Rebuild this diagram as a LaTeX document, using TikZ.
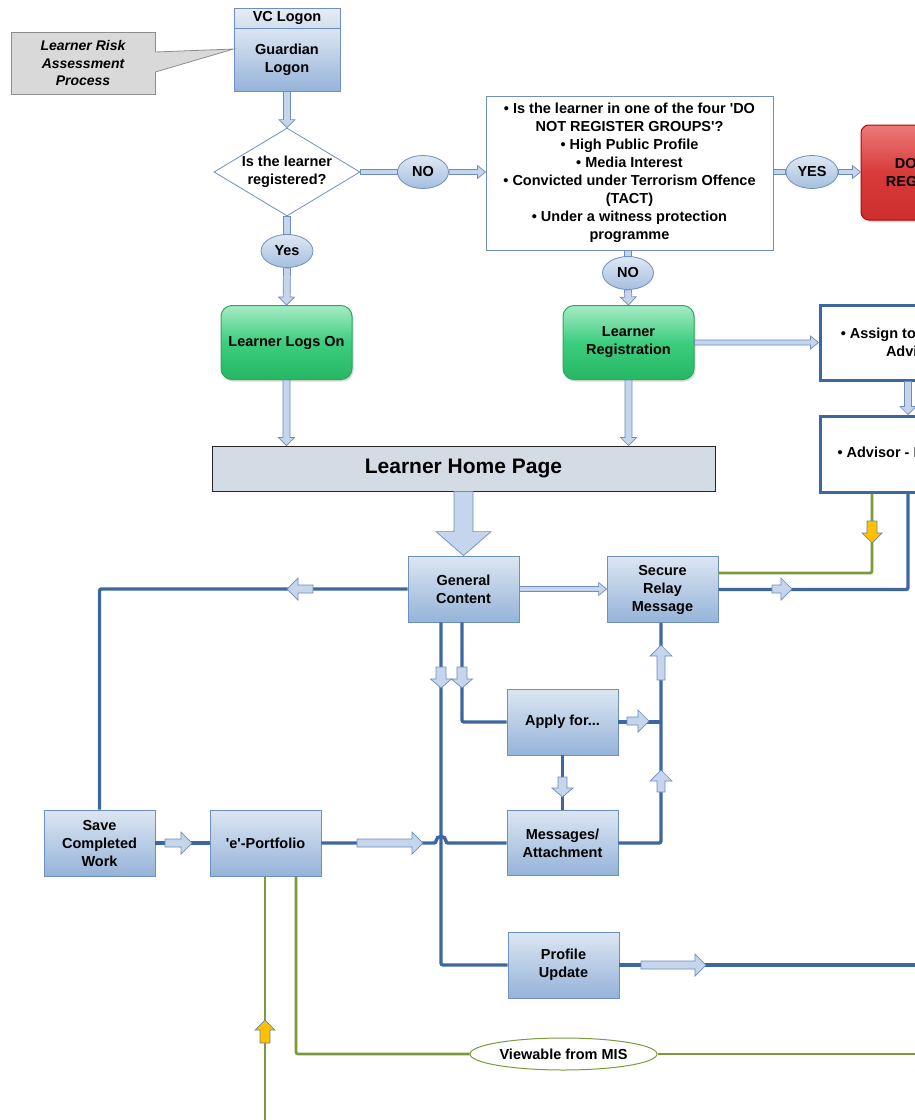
\documentclass[tikz,border=0pt]{standalone}
\usepackage{fontspec}
\setmainfont{Liberation Sans}
\usetikzlibrary{calc,shapes.geometric,shadows}

\definecolor{lineblue}{HTML}{3D679F}
\definecolor{boxedge}{HTML}{6D8FC2}
\definecolor{boxtop}{HTML}{DCE6F2}
\definecolor{boxbot}{HTML}{95B3D9}
\definecolor{arrowedge}{HTML}{6A8CBF}
\definecolor{arrowfill}{HTML}{C4D5EC}
\definecolor{olivegreen}{HTML}{7A9A3C}
\definecolor{amber}{HTML}{FFC000}
\definecolor{homefill}{HTML}{D3DBE5}
\definecolor{calloutfill}{HTML}{D9D9D9}
\definecolor{calloutedge}{HTML}{8C8C8C}
\definecolor{greentop}{HTML}{A6EBC5}
\definecolor{greenmid}{HTML}{3CCD7E}
\definecolor{greenbot}{HTML}{26B764}
\definecolor{greenedge}{HTML}{2CA85E}
\definecolor{redtop}{HTML}{EC7A7A}
\definecolor{redmid}{HTML}{D93A3A}
\definecolor{redbot}{HTML}{CC2E2E}
\definecolor{rededge}{HTML}{C00000}

\newcommand\boxfont{\bfseries\fontsize{14.5}{18}\selectfont}
\newcommand\homefont{\bfseries\fontsize{21}{24}\selectfont}
\newcommand\notefont{\bfseries\itshape\fontsize{14}{17.5}\selectfont}

\tikzset{
  flowbox/.style={rectangle, draw=boxedge, line width=0.8pt, top color=boxtop,
    bottom color=boxbot, minimum width=111pt, minimum height=66pt},
  greenbox/.style={rectangle, rounded corners=11pt, draw=greenedge, line width=1pt,
    top color=greentop, bottom color=greenbot, middle color=greenmid,
    minimum width=131pt, minimum height=74pt,
    drop shadow={shadow xshift=1.5pt, shadow yshift=-2pt, opacity=0.3}},
  stopbox/.style={rectangle, rounded corners=8pt, draw=rededge, line width=1pt,
    top color=redtop, bottom color=redbot, middle color=redmid,
    minimum width=124pt, minimum height=95pt,
    drop shadow={shadow xshift=1.5pt, shadow yshift=-2pt, opacity=0.3}},
  notebox/.style={rectangle, draw=lineblue, line width=3pt, fill=white,
    minimum width=186pt},
  pill/.style={ellipse, draw=boxedge, line width=0.8pt, top color=boxtop!90!white,
    bottom color=boxbot!85!white, minimum width=51pt, minimum height=33pt},
  link/.style={draw=lineblue, line width=3.4pt, rounded corners=2pt},
  glink/.style={draw=olivegreen, line width=2.8pt, rounded corners=2pt},
  barrowsize/.code args={#1/#2/#3}{\def\basw{#1}\def\bahw{#2}\def\bahl{#3}},
  blockarrow/.style={draw=arrowedge, fill=arrowfill, line width=0.7pt,
    line join=miter, barrowsize=#1,
    to path={let \p1=(\tikztostart), \p2=(\tikztotarget),
      \p3=($(\p2)!\bahl!(\p1)$) in
      ($(\p1)!\basw!90:(\p2)$) -- ($(\p3)!\basw!-90:(\p1)$)
      -- ($(\p3)!\bahw!-90:(\p1)$) -- (\p2) -- ($(\p3)!\bahw!90:(\p1)$)
      -- ($(\p3)!\basw!90:(\p1)$) -- ($(\p1)!\basw!-90:(\p2)$) -- cycle}},
  mainarrow/.style={blockarrow=3.5pt/8pt/8pt},
  thinarrow/.style={blockarrow=2.5pt/6.5pt/8pt},
  vshaft/.style={blockarrow=3.5pt/3.5pt/0pt},
  hshaft/.style={blockarrow=2.5pt/2.5pt/0pt},
  bigarrow/.style={blockarrow=9.5pt/27.5pt/24pt},
  linearrow/.style={blockarrow=4pt/11pt/11pt},
  warnarrow/.style={blockarrow=5pt/10pt/10pt, fill=amber, draw=lineblue!80},
}

\begin{document}
\begin{tikzpicture}[x=1pt, y=-1pt,
  every node/.style={inner sep=0pt, align=center, font=\boxfont, text=black}]
\useasboundingbox (0,0) rectangle (915,1120);
\clip (0,0) rectangle (915,1120);

% ---------- logon ----------
\node[flowbox, top color=boxtop!70!white, bottom color=boxtop!85!boxbot,
      minimum width=106pt, minimum height=20pt] (vc) at (287,18) {VC Logon};
\node[flowbox, minimum width=106pt, minimum height=63pt] (guardian) at (287,59.5)
  {Guardian\\Logon};

% risk assessment callout
\node[rectangle, draw=calloutedge, fill=calloutfill, line width=0.8pt,
      minimum width=144pt, minimum height=62pt, font=\notefont] (risk) at (83,63)
  {Learner Risk\\Assessment\\Process};
\coordinate (risktip) at ($(guardian.west)+(0,-10.5)$);
\fill[calloutfill] ($(risk.east)+(-1,-11)$) -- (risktip) -- ($(risk.east)+(-1,9)$) -- cycle;
\draw[calloutedge, line width=0.8pt] ($(risk.east)+(0,-11)$) -- (risktip)
  -- ($(risk.east)+(0,9)$);

% ---------- registration check ----------
\node[diamond, aspect=1.66, draw=boxedge, fill=white, line width=0.8pt,
      minimum width=146pt, minimum height=88pt] (check) at (287,172)
  {Is the learner\\registered?};
\node[pill] (no1) at (423,172) {NO};
\node[rectangle, draw=boxedge, fill=white, line width=1pt,
      minimum width=287pt, minimum height=154pt] (groups) at (629.5,173)
  {• Is the learner in one of the four \textquotesingle DO\\
   NOT REGISTER GROUPS\textquotesingle?\\
   • High Public Profile\\
   • Media Interest\\
   • Convicted under Terrorism Offence\\
   (TACT)\\
   • Under a witness protection\\
   programme};
\node[pill, minimum width=52pt] (yes1) at (812,172) {YES};
\node[stopbox] (stop) at (923,172.5) {DO NOT\\REGISTER};
\node[pill] (no2) at (628,273) {NO};
\node[pill, minimum width=52pt] (yes2) at (287,251) {Yes};

\node[greenbox] (logs) at (286.5,342.5) {Learner Logs On};
\node[greenbox] (register) at (628.5,342.5) {Learner\\Registration};

\node[notebox, minimum height=75pt] (assign) at (913,342.5)
  {• Assign to a Learner\\Advisor};
\node[notebox, minimum height=76pt] (advisor) at (913,454)
  {• Advisor - Monitoring};

\node[rectangle, draw=black!85, fill=homefill, line width=1pt,
      minimum width=503pt, minimum height=45pt, font=\homefont] (home) at (463.5,468.5)
  {Learner Home Page};

% ---------- learner area ----------
\node[flowbox] (gen) at (463.5,589) {General\\Content};
\node[flowbox] (relay) at (662.5,589.5) {Secure\\Relay\\Message};
\node[flowbox] (apply) at (562.5,722) {Apply for...};
\node[flowbox, minimum height=65pt] (msg) at (562.5,843) {Messages/\\Attachment};
\node[flowbox] (save) at (99.5,843) {Save\\Completed\\Work};
\node[flowbox] (port) at (265.5,843) {\textquotesingle e\textquotesingle-Portfolio};
\node[flowbox] (profile) at (563.5,965) {Profile\\Update};
\node[ellipse, draw=olivegreen, fill=white, line width=1pt,
      minimum width=187pt, minimum height=32pt] (view) at (563.5,1054)
  {Viewable from MIS};

% reference points for the routed lines
\coordinate (rightedge) at (917,0);
\coordinate (bottomedge) at (0,1122);
\coordinate (trunkL) at ($(gen.south)+(-22.5,0)$);
\coordinate (trunkR) at ($(gen.south)+(-1.5,0)$);
\coordinate (bus) at ($(relay.south)+(-1.5,0)$);
\coordinate (advB) at ($(advisor.south)+(-5,0)$);
\coordinate (advG) at ($(advisor.south)+(-41,0)$);
\coordinate (portG1) at ($(port.south)+(-0.5,0)$);
\coordinate (portG2) at ($(port.south)+(30.5,0)$);

% ---------- flow arrows (upper part) ----------
\draw[mainarrow] (guardian.south) to (check.north);
\draw[hshaft] (check.east) to (no1.west);
\draw[thinarrow] (no1.east) to (no1.east -| groups.west);
\draw[hshaft] (yes1.west -| groups.east) to (yes1.west);
\draw[thinarrow] (yes1.east) to (yes1.east -| stop.west);
\draw[vshaft] (no2.north |- groups.south) to (no2.north);
\draw[mainarrow] (no2.south) to (register.north);
\draw[vshaft] (check.south) to (yes2.north);
\draw[mainarrow] (yes2.south) to (logs.north);
\draw[mainarrow] (logs.south) to (logs.south |- home.north);
\draw[mainarrow] (register.south) to (register.south |- home.north);
\draw[thinarrow] (register.east) to (register.east -| assign.west);
\draw[mainarrow] ($(assign.south)+(-5,0)$) to ($(advisor.north)+(-5,0)$);
\draw[bigarrow] (home.south) to (gen.north);
\draw[thinarrow] (gen.east) to (gen.east -| relay.west);

% ---------- routed lines ----------
\draw[link] (gen.west) -| (save.north);
\draw[link] (trunkL) |- (profile.west);
\draw[link] (trunkR) |- (apply.west);
\draw[link] (apply.south) -- (msg.north);
\draw[link] (apply.east) -- (apply.east -| bus);
\draw[link] (msg.east) -| (bus);
\draw[link] (save.east) -- (port.west);
\draw[link] (port.east) -- ($(port.east -| trunkL)+(-5,0)$)
  .. controls +(0,-8) and +(0,-8) .. ($(port.east -| trunkL)+(5,0)$) -- (msg.west);
\draw[link] (relay.east) -| (advB);
\draw[link] (profile.east) -- (profile.east -| rightedge);
\draw[glink] (advG) |- ($(relay.east)+(0,-16.5)$);
\draw[glink] (portG1) -- (portG1 |- bottomedge);
\draw[glink] (portG2) |- (view.west);
\draw[glink] (view.east) -- (view.east -| rightedge);

% ---------- direction marks on the lines ----------
\draw[linearrow] (313,589) to (287,589);
\draw[blockarrow=5pt/10.5pt/9pt] (441,667) to (441,688);
\draw[blockarrow=5pt/10.5pt/9pt] (462,667) to (462,688);
\draw[blockarrow=4.5pt/10.5pt/9pt] (562.5,777) to (562.5,797);
\draw[linearrow] (627,721) to (649,721);
\draw[linearrow] (661,792) to (661,770);
\draw[linearrow] (661,680) to (661,645);
\draw[linearrow] (165,843) to (192,843);
\draw[linearrow] (357,843) to (423,843);
\draw[linearrow] (641,965) to (706,965);
\draw[linearrow] (772,589) to (792,589);
\draw[warnarrow] (872,521) to (872,543);
\draw[warnarrow] (265,1043) to (265,1020);
\end{tikzpicture}
\end{document}
